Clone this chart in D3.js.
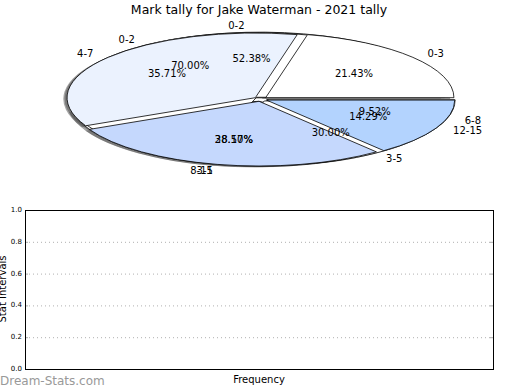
<!DOCTYPE html>
<html>
<head>
<meta charset="utf-8">
<script src="https://cdn.jsdelivr.net/npm/d3@7"></script>
<style>
  body { margin: 0; background: #fff; }
  svg { display: block; font-family: "DejaVu Sans", sans-serif; }
</style>
</head>
<body>
<svg id="chart" width="520" height="390"></svg>
<script>
// ---- data ----
const title = "Mark tally for Jake Waterman - 2021 tally";
// three pies drawn on top of one another (bottom first)
const pieCLabels = ["0-2", "3-5", "6-8"];
const pieCValues = [11, 8, 2];
const pieBLabels = ["0-2", "3-5"];
const pieBValues = [7, 3];
const pieALabels = ["0-3", "4-7", "8-11", "12-15"];
const pieAValues = [3, 5, 4, 2];
const pieCColors = ["#ffffff", "#ffffff", "#ffffff"];
const pieBColors = ["#ffffff", "#ffffff"];
const pieAColors = ["#ffffff", "#ebf2fe", "#c5d8fd", "#b3d3fe"];
const yTicks = [0.0, 0.2, 0.4, 0.6, 0.8, 1.0];
const yLabel = "Stat Intervals";
const xLabel = "Frequency";
const watermark = "Dream-Stats.com";

const svg = d3.select("#chart");

// ---- title ----
svg.append("text").attr("x", 259).attr("y", 14).attr("text-anchor", "middle")
  .attr("font-size", 12.5).attr("fill", "#000").text(title);

// ---- pie geometry ----
const cx = 260.5, cy = 99.1, rx = 188.3, ry = 64.7;
const explode = 0.035;
const R = 100;
const arc = d3.arc().innerRadius(0).outerRadius(R);

const pies = [
  { labels: pieCLabels, values: pieCValues, colors: pieCColors },
  { labels: pieBLabels, values: pieBValues, colors: pieBColors },
  { labels: pieALabels, values: pieAValues, colors: pieAColors }
];

const layout = d3.pie().sort(null).value(d => d);
pies.forEach(p => {
  const total = d3.sum(p.values);
  p.slices = layout(p.values).map((s, i) => {
    // matplotlib style: start at 3 o'clock, counter-clockwise
    const t1 = s.startAngle, t2 = s.endAngle;
    const tm = (t1 + t2) / 2;
    const dx = explode * rx * Math.cos(tm);
    const dy = -explode * ry * Math.sin(tm);
    return {
      a1: Math.PI / 2 - t1, a2: Math.PI / 2 - t2, tm, dx, dy,
      label: p.labels[i], color: p.colors[i],
      pct: (100 * p.values[i] / total).toFixed(2) + "%"
    };
  });
});

const wedgeLayer = svg.append("g");
const shadowLayer = wedgeLayer.append("g");
const fillLayer = wedgeLayer.append("g");

function wedgePath(s) {
  return arc({ startAngle: s.a2, endAngle: s.a1 });
}

// shadows (beneath everything)
pies.forEach(p => {
  shadowLayer.selectAll(null).data(p.slices).enter().append("path")
    .attr("d", wedgePath)
    .attr("transform", s => `translate(${cx + s.dx - 0.02 * rx},${cy + s.dy + 0.02 * ry}) scale(${rx / R},${ry / R})`)
    .attr("fill", "#4d4d4d").attr("fill-opacity", 0.5);
});

// wedges
pies.forEach(p => {
  fillLayer.selectAll(null).data(p.slices).enter().append("path")
    .attr("d", wedgePath)
    .attr("transform", s => `translate(${cx + s.dx},${cy + s.dy}) scale(${rx / R},${ry / R})`)
    .attr("fill", s => s.color)
    .attr("stroke", "#000").attr("stroke-width", 0.8)
    .attr("vector-effect", "non-scaling-stroke");
});

// texts (labels and percentages for all pies)
const textLayer = svg.append("g").attr("font-size", 10).attr("fill", "#000");
pies.forEach(p => {
  p.slices.forEach(s => {
    const c = Math.cos(s.tm), sn = Math.sin(s.tm);
    textLayer.append("text")
      .attr("x", cx + s.dx + 1.1 * rx * c)
      .attr("y", cy + s.dy - 1.1 * ry * sn)
      .attr("text-anchor", c > 0 ? "start" : "end")
      .attr("dominant-baseline", "central")
      .text(s.label);
    textLayer.append("text")
      .attr("x", cx + s.dx + 0.6 * rx * c)
      .attr("y", cy + s.dy - 0.6 * ry * sn)
      .attr("text-anchor", "middle")
      .attr("dominant-baseline", "central")
      .text(s.pct);
  });
});

// ---- lower empty axes ----
const ax = { left: 25, right: 493, top: 210, bottom: 369 };
const y = d3.scaleLinear().domain([0, 1]).range([ax.bottom, ax.top]);

const g = svg.append("g");
// grid
g.selectAll(null).data(yTicks.filter(t => t > 0 && t < 1)).enter().append("line")
  .attr("x1", ax.left).attr("x2", ax.right)
  .attr("y1", d => y(d) + 0.5).attr("y2", d => y(d) + 0.5)
  .attr("stroke", "#b0b0b0").attr("stroke-width", 1).attr("stroke-dasharray", "1,3");

// ticks inside (left and right)
g.selectAll(null).data(yTicks).enter().append("line")
  .attr("x1", ax.left).attr("x2", ax.left + 3)
  .attr("y1", d => y(d) + 0.5).attr("y2", d => y(d) + 0.5)
  .attr("stroke", "#aaa");
g.selectAll(null).data(yTicks).enter().append("line")
  .attr("x1", ax.right - 3).attr("x2", ax.right)
  .attr("y1", d => y(d) + 0.5).attr("y2", d => y(d) + 0.5)
  .attr("stroke", "#aaa");

// frame
g.append("rect").attr("x", ax.left + 0.5).attr("y", ax.top + 0.5)
  .attr("width", ax.right - ax.left).attr("height", ax.bottom - ax.top)
  .attr("fill", "none").attr("stroke", "#000").attr("stroke-width", 1);

// tick labels
g.selectAll(null).data(yTicks).enter().append("text")
  .attr("x", ax.left - 3).attr("y", d => y(d))
  .attr("text-anchor", "end").attr("dominant-baseline", "central")
  .attr("font-size", 7).attr("fill", "#000")
  .text(d => d.toFixed(1));

// axis labels
svg.append("text").attr("transform", `translate(5.5,289) rotate(-90)`)
  .attr("text-anchor", "middle").attr("font-size", 10).attr("fill", "#000").text(yLabel);
svg.append("text").attr("x", 259).attr("y", 383).attr("text-anchor", "middle")
  .attr("font-size", 10).attr("fill", "#000").text(xLabel);

// watermark
svg.append("text").attr("x", 0).attr("y", 385).attr("font-size", 12)
  .attr("fill", "#999").text(watermark);
</script>
</body>
</html>
